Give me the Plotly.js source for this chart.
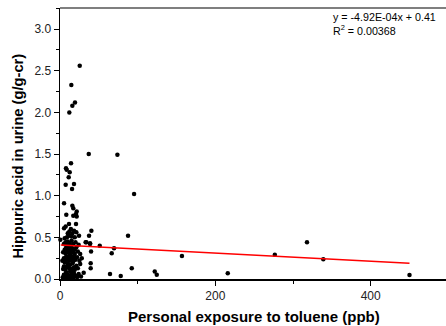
<!DOCTYPE html>
<html>
<head>
<meta charset="utf-8">
<script src="https://cdn.plot.ly/plotly-3.0.1.min.js"></script>
<style>html,body{margin:0;padding:0;background:#fff;}#chart{width:446px;height:326px;}</style>
</head>
<body>
<div id="chart"></div>
<script>
// Personal exposure to toluene (ppb)
const exposure = [
  25.4, 14.6, 19.3, 15.9, 12.0,
  37, 73.9, 95.4, 87.6, 69.6, 66.6, 51.2, 92.4, 64.4, 78.2, 122, 124.6, 157, 216,
  276.6, 318, 339, 450,
  14.2, 7.7, 8.6, 12.5, 11.2, 7.3, 18, 15.5, 5.2,
  15.9, 17.1, 21.5, 20.6, 21.5, 8.1, 17.1, 20.6, 11.6, 5.2, 7.3,
  40.4, 37.4, 33.9, 38.7, 40, 39.5, 39.5, 30.5, 33, 38.7, 0.5,
  3.5, 5, 6, 7, 8, 9, 10, 11, 12, 13, 14, 15, 16, 17, 18, 20, 22, 24, 27,
  4, 6, 7, 9, 10, 12, 13, 15, 16, 18, 19, 21, 23, 26,
  3, 5, 7, 8, 9, 11, 12, 14, 15, 17, 18, 20, 22, 25, 28,
  4, 6, 7, 8, 10, 11, 12, 13, 14, 16, 17, 19, 21, 23, 26,
  5, 7, 9, 10, 12, 14, 15, 17, 20, 24,
  6, 9, 13, 16, 12, 14, 18, 24.5, 11, 19, 21, 10, 15,
  8, 11, 13, 6, 9, 14, 16, 19, 5, 10, 12, 17
];
// Hippuric acid in urine (g/g-cr)
const hippuric = [
  2.56, 2.33, 2.12, 2.08, 2.00,
  1.50, 1.49, 1.02, 0.52, 0.37, 0.31, 0.40, 0.13, 0.06, 0.036, 0.09, 0.05, 0.276, 0.068,
  0.29, 0.44, 0.236, 0.048,
  1.39, 1.33, 1.31, 1.28, 1.22, 1.13, 1.14, 1.08, 0.91,
  0.88, 0.85, 0.81, 0.78, 0.75, 0.77, 0.76, 0.66, 0.66, 0.61, 0.63,
  0.58, 0.52, 0.44, 0.43, 0.33, 0.19, 0.13, 0.076, 0.44, 0.42, 0.47,
  0.02, 0.05, 0.01, 0.03, 0.08, 0.02, 0.05, 0.01, 0.04, 0.09, 0.02, 0.06, 0.03, 0.01, 0.07, 0.04, 0.02, 0.06, 0.03,
  0.12, 0.15, 0.11, 0.14, 0.18, 0.13, 0.17, 0.12, 0.19, 0.14, 0.11, 0.16, 0.13, 0.18,
  0.22, 0.25, 0.21, 0.27, 0.23, 0.26, 0.22, 0.28, 0.24, 0.21, 0.27, 0.23, 0.26, 0.22, 0.25,
  0.32, 0.35, 0.31, 0.38, 0.33, 0.36, 0.31, 0.39, 0.34, 0.37, 0.32, 0.35, 0.38, 0.33, 0.30,
  0.42, 0.44, 0.41, 0.45, 0.43, 0.40, 0.46, 0.42, 0.44, 0.41,
  0.49, 0.50, 0.52, 0.55, 0.57, 0.60, 0.58, 0.52, 0.53, 0.50, 0.56, 0.55, 0.51,
  0.07, 0.16, 0.29, 0.20, 0.36, 0.10, 0.25, 0.30, 0.15, 0.39, 0.28, 0.09
];
// Linear fit parameters
const slope = -4.92e-4;
const intercept = 0.41;
const fitText = ["y = -4.92E-04x + 0.41", "R<sup>2</sup> = 0.00368"];
const xTitle = "Personal exposure to toluene (ppb)";
const yTitle = "Hippuric acid in urine (g/g-cr)";
const xTicks = [0, 200, 400];
const yTicks = [0.0, 0.5, 1.0, 1.5, 2.0, 2.5, 3.0];

const xMin = 1, xMax = Math.max(...exposure);
const fitX = [xMin, xMax];
const fitY = fitX.map(v => slope * v + intercept);

const font = "Liberation Sans, Arial, sans-serif";

const traces = [
  {
    x: exposure, y: hippuric, type: 'scatter', mode: 'markers',
    marker: {color: '#000', size: 4.5}, hoverinfo: 'none', cliponaxis: false
  },
  {
    x: fitX, y: fitY, type: 'scatter', mode: 'lines',
    line: {color: '#ff0000', width: 1.5}, hoverinfo: 'none'
  }
];

const layout = {
  width: 446, height: 326,
  margin: {l: 60, r: 0, t: 8, b: 47},
  paper_bgcolor: '#fff', plot_bgcolor: '#fff',
  showlegend: false,
  font: {family: font, color: '#000', size: 12},
  xaxis: {
    range: [0, 497], showgrid: false, zeroline: false,
    showline: true, linecolor: '#000', linewidth: 1.5,
    ticks: 'outside', ticklen: 5, tickwidth: 1, tickcolor: '#000',
    tickvals: xTicks, ticktext: xTicks.map(String),
    tickfont: {family: font, size: 12, color: '#222'},
    minor: {dtick: 100, tick0: 0, ticks: 'outside', ticklen: 3, tickcolor: '#000', showgrid: false}
  },
  yaxis: {
    range: [0, 3.253], showgrid: false, zeroline: false,
    showline: true, linecolor: '#000', linewidth: 1.5,
    ticks: 'outside', ticklen: 5, tickwidth: 1, tickcolor: '#000',
    tickvals: yTicks, ticktext: yTicks.map(v => v.toFixed(1)),
    tickfont: {family: font, size: 12, color: '#222'},
    minor: {dtick: 0.25, tick0: 0, ticks: 'outside', ticklen: 3, tickcolor: '#000', showgrid: false}
  },
  shapes: [
    {type: 'line', xref: 'paper', yref: 'paper', x0: 0, x1: 1, y0: 1, y1: 1,
     line: {color: '#555', width: 1.5}}
  ],
  annotations: [
    {xref: 'paper', yref: 'paper', x: 0.702, y: 0.997, xanchor: 'left', yanchor: 'top',
     align: 'left', showarrow: false, text: fitText.join('<br>'),
     font: {family: font, size: 10.7, color: '#000'}},
    {xref: 'paper', yref: 'paper', x: 0.502, y: -0.137, xanchor: 'center', yanchor: 'middle',
     showarrow: false, text: '<b>' + xTitle + '</b>',
     font: {family: font, size: 15, color: '#000'}},
    {xref: 'paper', yref: 'paper', x: -0.109, y: 0.455, xanchor: 'center', yanchor: 'middle',
     showarrow: false, textangle: -90, text: '<b>' + yTitle + '</b>',
     font: {family: font, size: 14.7, color: '#000'}}
  ]
};

Plotly.newPlot('chart', traces, layout, {staticPlot: true, displayModeBar: false});
</script>
</body>
</html>
